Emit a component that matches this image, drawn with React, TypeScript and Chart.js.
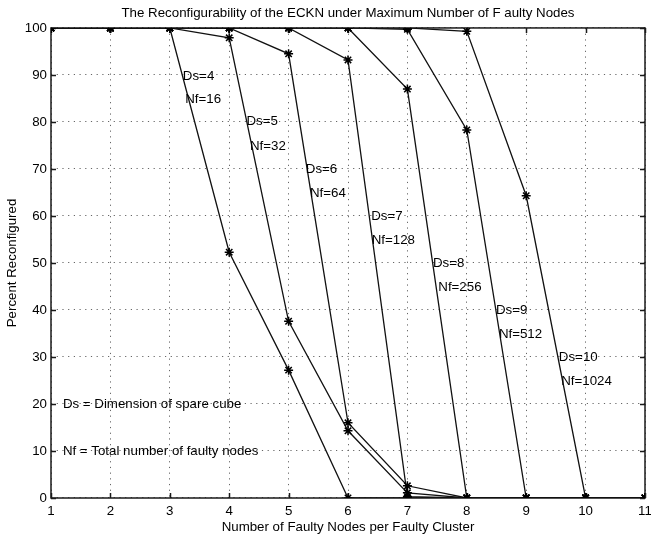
import React, { useEffect, useRef } from 'react';
import { Chart, registerables } from 'chart.js';

Chart.register(...registerables);

// Number of faulty nodes per faulty cluster
const faultyNodes = [1, 2, 3, 4, 5, 6, 7, 8, 9, 10, 11];

// Percent reconfigured for each spare-cube dimension
const ds4 = [100, 100, 100, 52.3, 27.2, 0, 0, 0, 0, 0, 0];
const ds5 = [100, 100, 100, 97.9, 37.6, 14.3, 1.1, 0, 0, 0, 0];
const ds6 = [100, 100, 100, 100, 94.5, 16.0, 2.6, 0, 0, 0, 0];
const ds7 = [100, 100, 100, 100, 100, 93.2, 0.3, 0, 0, 0, 0];
const ds8 = [100, 100, 100, 100, 100, 100, 87.0, 0, 0, 0, 0];
const ds9 = [100, 100, 100, 100, 100, 100, 99.7, 78.3, 0, 0, 0];
const ds10 = [100, 100, 100, 100, 100, 100, 100, 99.3, 64.3, 0, 0];

const seriesNames = ['Ds=4', 'Ds=5', 'Ds=6', 'Ds=7', 'Ds=8', 'Ds=9', 'Ds=10'];
const seriesValues = [ds4, ds5, ds6, ds7, ds8, ds9, ds10];

// Text annotations (data coordinates: left edge x, middle y)
const noteTexts = [
  'Ds=4', 'Nf=16', 'Ds=5', 'Nf=32', 'Ds=6', 'Nf=64', 'Ds=7', 'Nf=128',
  'Ds=8', 'Nf=256', 'Ds=9', 'Nf=512', 'Ds=10', 'Nf=1024',
  'Ds = Dimension of spare cube', 'Nf = Total number of faulty nodes',
];
const noteX = [
  3.22, 3.26, 4.29, 4.35, 5.29, 5.36, 6.39, 6.4,
  7.43, 7.52, 8.49, 8.54, 9.55, 9.59,
  1.2, 1.2,
];
const noteY = [
  89.8, 84.9, 80.1, 74.9, 69.9, 64.9, 60.0, 54.9,
  49.9, 44.9, 39.9, 34.9, 30.0, 24.9,
  20, 10,
];

const titleText = 'The Reconfigurability of the ECKN under Maximum Number of F aulty Nodes';
const xTitle = 'Number of Faulty Nodes per Faulty Cluster';
const yTitle = 'Percent Reconfigured';

const FONT = "'Liberation Sans', Arial, Helvetica, sans-serif";
const FS = 13.3;

const framePlugin = {
  id: 'frame',
  beforeDatasetsDraw(chart: any) {
    const { ctx, chartArea, scales } = chart;
    const { left, right, top, bottom } = chartArea;
    const xs = scales.x;
    const ys = scales.y;
    ctx.save();
    ctx.strokeStyle = '#1a1a1a';
    ctx.lineWidth = 1.5;
    ctx.strokeRect(left, top, right - left, bottom - top);
    const len = 5;
    ctx.beginPath();
    xs.ticks.forEach((t: any) => {
      const px = Math.round(xs.getPixelForValue(t.value)) + 0.5;
      ctx.moveTo(px, bottom);
      ctx.lineTo(px, bottom - len);
      ctx.moveTo(px, top);
      ctx.lineTo(px, top + len);
    });
    ys.ticks.forEach((t: any) => {
      const py = Math.round(ys.getPixelForValue(t.value)) + 0.5;
      ctx.moveTo(left, py);
      ctx.lineTo(left + len, py);
      ctx.moveTo(right, py);
      ctx.lineTo(right - len, py);
    });
    ctx.stroke();
    ctx.restore();
  },
};

const notesPlugin = {
  id: 'notes',
  afterDatasetsDraw(chart: any) {
    const { ctx, scales } = chart;
    ctx.save();
    ctx.fillStyle = '#000';
    ctx.font = `${FS}px ${FONT}`;
    ctx.textAlign = 'left';
    ctx.textBaseline = 'middle';
    noteTexts.forEach((t, i) => {
      ctx.fillText(t, scales.x.getPixelForValue(noteX[i]), scales.y.getPixelForValue(noteY[i]));
    });
    ctx.restore();
  },
};

export default function App() {
  const canvasRef = useRef<HTMLCanvasElement | null>(null);

  useEffect(() => {
    if (!canvasRef.current) return;
    Chart.defaults.font.family = FONT;
    Chart.defaults.font.size = FS;
    Chart.defaults.color = '#000';

    const chart = new Chart(canvasRef.current, {
      type: 'line',
      data: {
        datasets: seriesNames.map((name, i) => ({
          label: name,
          data: faultyNodes.map((x, j) => ({ x, y: seriesValues[i][j] })),
          borderColor: '#111',
          backgroundColor: '#111',
          borderWidth: 1.3,
          pointStyle: 'star',
          pointRadius: 4.5,
          pointBorderWidth: 1.5,
          pointBorderColor: '#000',
          fill: false,
          tension: 0,
        })),
      },
      options: {
        responsive: false,
        animation: false,
        devicePixelRatio: 1,
        layout: { padding: { left: 0, right: 6, top: 0, bottom: 0 } },
        plugins: {
          legend: { display: false },
          tooltip: { enabled: false },
          title: {
            display: true,
            text: titleText,
            fullSize: false,
            font: { size: FS, weight: 'normal', family: FONT },
            color: '#000',
            padding: { top: 5, bottom: 7 },
          },
        },
        scales: {
          x: {
            type: 'linear',
            min: 1,
            max: 11,
            ticks: { stepSize: 1, padding: 5, color: '#000', font: { size: FS } },
            grid: { color: '#666', lineWidth: 1, drawTicks: false },
            border: { display: false, dash: [1.2, 4.5] },
            title: { display: true, text: xTitle, color: '#000', font: { size: FS }, padding: { top: 0, bottom: 5 } },
            afterFit: (s: any) => { s.height = 42; s.paddingRight = 0; s.paddingLeft = 0; },
          },
          y: {
            type: 'linear',
            min: 0,
            max: 100,
            ticks: { stepSize: 10, padding: 4, color: '#000', font: { size: FS } },
            grid: { color: '#666', lineWidth: 1, drawTicks: false },
            border: { display: false, dash: [1.2, 4.5] },
            title: { display: true, text: yTitle, color: '#000', font: { size: FS }, padding: { top: 4, bottom: 0 } },
            afterFit: (s: any) => { s.width = 51; s.paddingTop = 0; s.paddingBottom = 0; },
          },
        },
      },
      plugins: [framePlugin, notesPlugin],
    } as any);

    return () => chart.destroy();
  }, []);

  return (
    <div style={{ position: 'absolute', left: 0, top: 0, width: 651, height: 540 }}>
      <canvas ref={canvasRef} width={651} height={540} style={{ display: 'block' }} />
    </div>
  );
}
